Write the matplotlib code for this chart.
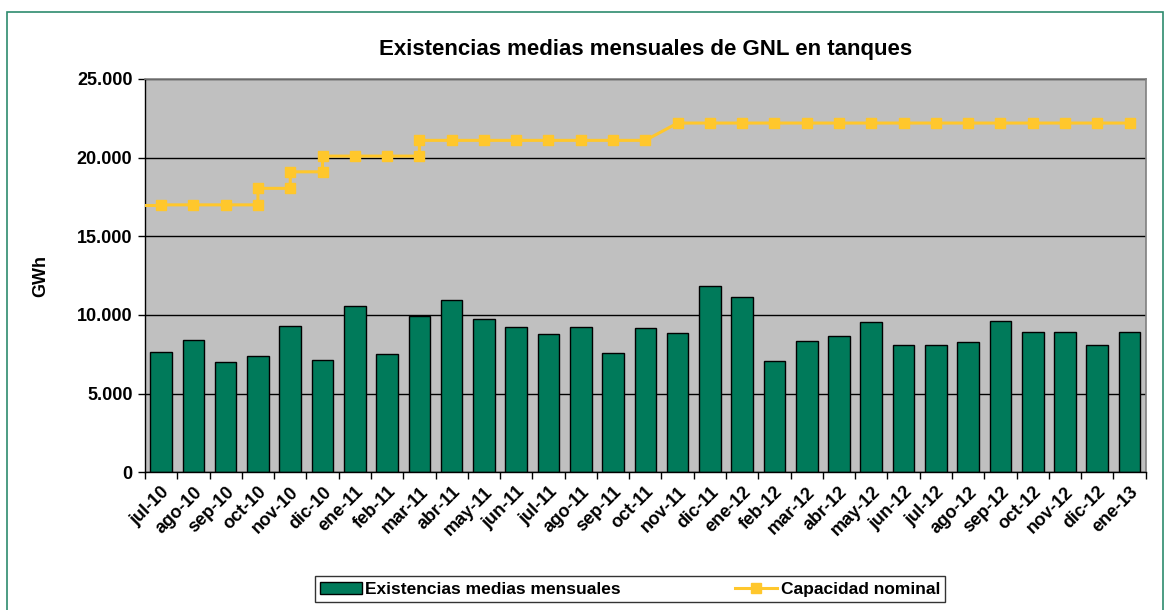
import matplotlib
matplotlib.use('Agg')
from matplotlib import pyplot as plt
from matplotlib.patches import Rectangle
import numpy as np

plt.rcParams['font.family'] = ['Liberation Sans', 'DejaVu Sans']
plt.rcParams['font.weight'] = 'bold'

months = ['jul-10', 'ago-10', 'sep-10', 'oct-10', 'nov-10', 'dic-10',
          'ene-11', 'feb-11', 'mar-11', 'abr-11', 'may-11', 'jun-11',
          'jul-11', 'ago-11', 'sep-11', 'oct-11', 'nov-11', 'dic-11',
          'ene-12', 'feb-12', 'mar-12', 'abr-12', 'may-12', 'jun-12',
          'jul-12', 'ago-12', 'sep-12', 'oct-12', 'nov-12', 'dic-12',
          'ene-13']

# existencias medias mensuales (GWh)
existencias = [7660, 8400, 6990, 7370, 9300, 7130,
               10590, 7520, 9930, 10950, 9740, 9230,
               8790, 9210, 7600, 9150, 8870, 11860,
               11120, 7070, 8340, 8640, 9530, 8110,
               8110, 8260, 9590, 8930, 8930, 8110,
               8930]

# capacidad nominal: puntos (indice de mes, GWh); los cambios se dan dentro del mismo mes
cap_x = [0, 1, 2, 3, 3, 4, 4, 5, 5, 6, 7, 8, 8, 9, 10, 11, 12, 13, 14, 15,
         16, 17, 18, 19, 20, 21, 22, 23, 24, 25, 26, 27, 28, 29, 30]
cap_y = [17000, 17000, 17000, 17000, 18050, 18050, 19100, 19100, 20100,
         20100, 20100, 20100, 21100, 21100, 21100, 21100, 21100, 21100,
         21100, 21100, 22200, 22200, 22200, 22200, 22200, 22200, 22200,
         22200, 22200, 22200, 22200, 22200, 22200, 22200, 22200]

green = '#007A5A'
yellow = '#FFC72C'

fig = plt.figure(figsize=(11.71, 6.10), dpi=100)
fig.patches.append(Rectangle((0.006, -0.01), 0.987, 0.99, transform=fig.transFigure,
                             fill=False, edgecolor='#2E8B6E', linewidth=1.2))

ax = fig.add_axes([0.1238, 0.2257, 0.8546, 0.6448])
ax.set_facecolor('#C0C0C0')

x = np.arange(len(months))
bars = ax.bar(x, existencias, width=0.67, color=green, edgecolor='black',
              linewidth=1, zorder=2, label='Existencias medias mensuales')

# la serie de capacidad arranca en el borde izquierdo del area
ax.plot([-0.5, cap_x[0]], [cap_y[0], cap_y[0]], color=yellow, linewidth=2.2, zorder=3)
line, = ax.plot(cap_x, cap_y, color=yellow, linewidth=2.2, marker='s',
                markersize=6.5, zorder=3, label='Capacidad nominal')

ax.set_xlim(-0.5, len(months) - 0.5)
ax.set_ylim(0, 25000)
ax.set_yticks(np.arange(0, 25001, 5000))
ax.set_yticklabels(['0', '5.000', '10.000', '15.000', '20.000', '25.000'],
                   fontsize=13, fontweight='bold')
ax.yaxis.grid(True, color='black', linewidth=1, zorder=1)
ax.set_axisbelow(True)

ax.set_xticks(np.arange(-0.5, len(months)), minor=False)
ax.set_xticklabels([])
ax.set_xticks(x, minor=True)
ax.set_xticklabels(months, minor=True, rotation=45, ha='right', va='top',
                   rotation_mode='anchor', fontsize=13, fontweight='bold')
ax.tick_params(axis='x', which='minor', length=0, pad=8)
ax.tick_params(axis='x', which='major', length=5, width=1, direction='out')
ax.tick_params(axis='y', length=5, width=1, direction='out', pad=4)

for side in ['top', 'right']:
    ax.spines[side].set_color('#808080')
    ax.spines[side].set_linewidth(1.2)
ax.spines['left'].set_linewidth(1)
ax.spines['bottom'].set_linewidth(1)

ax.set_ylabel('GWh', fontsize=13, fontweight='bold', labelpad=20)
ax.set_title('Existencias medias mensuales de GNL en tanques', fontsize=16,
             fontweight='bold', pad=17)

leg = fig.legend(handles=[bars, line], loc='center', bbox_to_anchor=(0.538, 0.034),
                 ncol=2, frameon=True, fancybox=False,
                 handlelength=2.4, handletextpad=0.2, columnspacing=6.6,
                 borderpad=0.3, borderaxespad=0.0,
                 prop={'weight': 'bold', 'size': 12.5})
leg.get_frame().set_edgecolor('black')
leg.get_frame().set_linewidth(1)

plt.savefig('out.png', dpi=100)
